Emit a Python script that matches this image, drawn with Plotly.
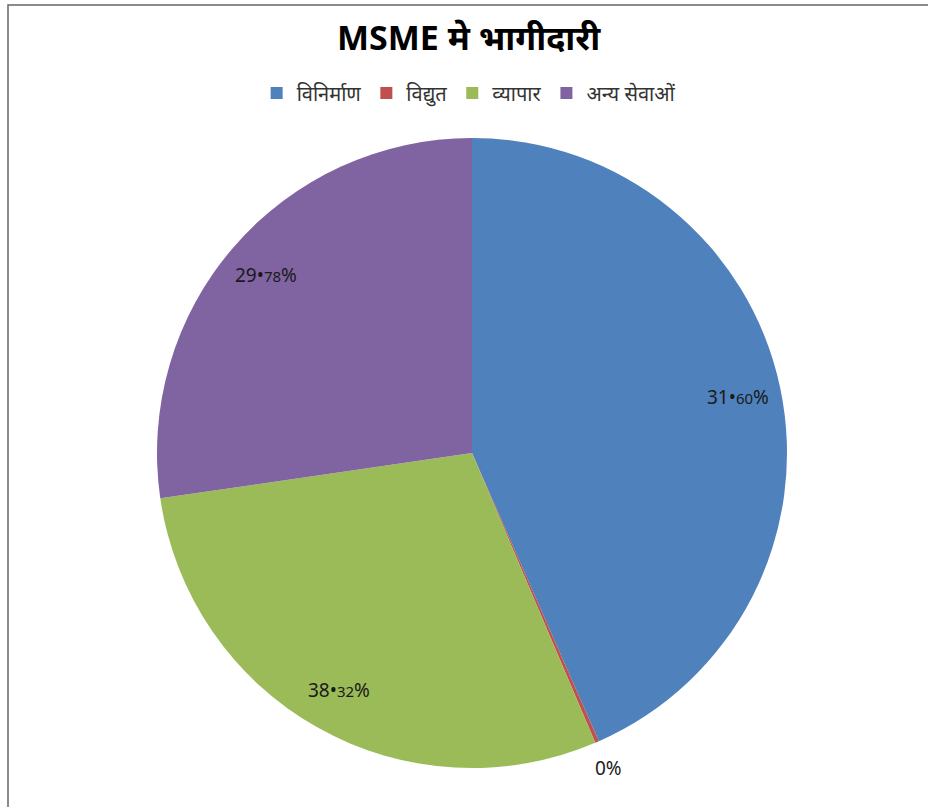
import math
import plotly.graph_objects as go

categories = ["विनिर्माण", "विद्युत", "व्यापार", "अन्य सेवाओं"]
values = [43.4, 0.2, 29.1, 27.3]
label_text = ["31•<span style='font-size:15px'>60</span>%", "0%",
              "38•<span style='font-size:15px'>32</span>%", "29•<span style='font-size:15px'>78</span>%"]
colors = ["#4F81BD", "#C0504D", "#9BBB59", "#8064A2"]

W, H = 928, 807
cx, cy, R = 472, 453, 315

fig = go.Figure()
fig.add_trace(go.Pie(
    labels=categories, values=values, sort=False, direction="clockwise", rotation=0,
    marker=dict(colors=colors, line=dict(width=0)),
    textinfo="none", hoverinfo="label+percent",
    domain=dict(x=[(cx - R) / W, (cx + R) / W], y=[1 - (cy + R) / H, 1 - (cy - R) / H]),
))

# label annotations placed along each slice's mid-angle
total = sum(values)
acc = 0
annotations = []
for v, t in zip(values, label_text):
    mid = (acc + v / 2) / total * 2 * math.pi
    acc += v
    frac = 0.864 if v / total > 0.05 else 1.09
    x = cx + frac * R * math.sin(mid)
    y = cy - frac * R * math.cos(mid)
    annotations.append(dict(x=x / W, y=1 - y / H, xref="paper", yref="paper", text=t,
                            showarrow=False, font=dict(size=19, color="#1a1a1a",
                                                        family="Noto Sans, sans-serif"),
                            xanchor="center", yanchor="middle"))

fig.update_layout(
    width=W, height=H,
    margin=dict(l=0, r=0, t=0, b=0),
    paper_bgcolor="white", plot_bgcolor="white",
    title=dict(text="<b>MSME मे भागीदारी</b>", x=0.505, xanchor="center", y=1 - 38 / H,
               yanchor="middle", font=dict(size=34, color="black", family="Noto Sans, sans-serif")),
    legend=dict(orientation="h", x=0.505, xanchor="center", y=1 - 93 / H, yanchor="middle",
                font=dict(size=20, color="#333", family="Noto Sans, sans-serif"),
                itemwidth=30, traceorder="normal"),
    annotations=annotations,
    shapes=[dict(type="rect", xref="paper", yref="paper", x0=8 / W, x1=1.02, y0=-0.02,
                 y1=1 - 5 / H, line=dict(color="#666", width=1.5))],
)

fig.write_html("out.html", config={"displayModeBar": False},
               post_script="document.body.style.margin='0';document.body.style.overflow='hidden';")
